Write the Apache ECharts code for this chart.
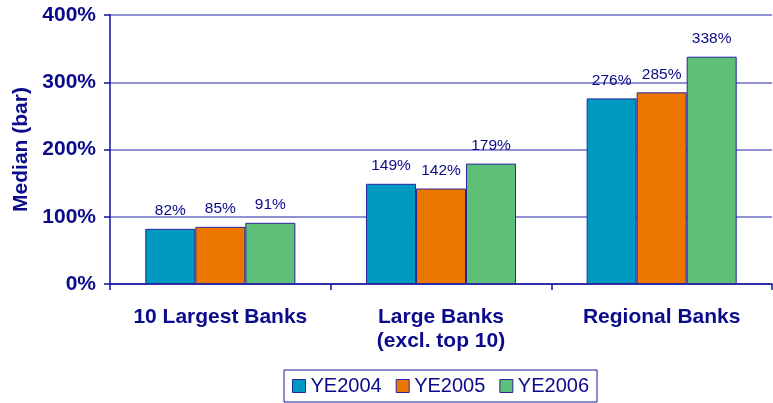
<!DOCTYPE html>
<html>
<head>
<meta charset="utf-8">
<script src="https://cdn.jsdelivr.net/npm/echarts@6/dist/echarts.min.js"></script>
<style>
  html, body { margin: 0; padding: 0; background: #ffffff; }
  #chart { width: 773px; height: 403px; }
</style>
</head>
<body>
<div id="chart"></div>
<script>
// Median (bar) by bank group, year-end 2004-2006
const categories = ['10 Largest Banks', 'Large Banks\n(excl. top 10)', 'Regional Banks'];
const seriesNames = ['YE2004', 'YE2005', 'YE2006'];
const ye2004 = [82, 149, 276];
const ye2005 = [85, 142, 285];
const ye2006 = [91, 179, 338];
const yTicks = [0, 100, 200, 300, 400];

const navy = '#0A0A8C';
const colors = ['#0099C2', '#EB7700', '#5DBF78'];
const values = [ye2004, ye2005, ye2006];
const regular = '"Liberation Sans", Arial, sans-serif';

const chart = echarts.init(document.getElementById('chart'), null, { renderer: 'canvas' });

const series = seriesNames.map((name, i) => ({
  name: name,
  type: 'bar',
  data: values[i],
  barGap: '0%',
  barCategoryGap: '32%',
  itemStyle: { color: colors[i], borderColor: '#2626A0', borderWidth: 1 },
  label: {
    show: true,
    position: 'top',
    distance: 10,
    formatter: p => p.value + '%',
    color: navy,
    fontFamily: regular,
    fontSize: 15.5
  }
}));

chart.setOption({
  animation: false,
  textStyle: { fontFamily: regular },
  grid: { left: 110, right: 1, top: 15, bottom: 119, containLabel: false, outerBoundsMode: 'none' },
  legend: {
    data: seriesNames,
    left: 284,
    top: 370,
    itemWidth: 13,
    itemHeight: 13,
    itemGap: 14,
    padding: [6, 8, 6, 8],
    borderColor: '#1A1A95',
    borderWidth: 1,
    icon: 'rect',
    itemStyle: { borderColor: '#2626A0', borderWidth: 1 },
    textStyle: { color: navy, fontSize: 20, fontFamily: regular }
  },
  xAxis: {
    type: 'category',
    data: categories,
    axisLine: { lineStyle: { color: '#1010A0', width: 1.5 } },
    axisTick: { show: true, length: 6, lineStyle: { color: '#1010A0', width: 1.5 } },
    axisLabel: {
      color: navy,
      fontWeight: 'bold',
      fontSize: 21,
      lineHeight: 24,
      margin: 21,
      interval: 0
    }
  },
  yAxis: {
    type: 'value',
    min: yTicks[0],
    max: yTicks[yTicks.length - 1],
    interval: 100,
    name: 'Median (bar)',
    nameLocation: 'middle',
    nameGap: 76,
    nameRotate: 90,
    nameTextStyle: { color: navy, fontWeight: 'bold', fontSize: 21 },
    axisLine: { show: true, lineStyle: { color: '#1010A0', width: 1.5 } },
    axisTick: { show: true, length: 6, lineStyle: { color: '#1010A0', width: 1.5 } },
    splitLine: { show: true, lineStyle: { color: '#6C6CC4', width: 1.5 } },
    axisLabel: {
      color: navy,
      fontWeight: 'bold',
      fontSize: 21,
      margin: 14,
      formatter: v => v + '%'
    }
  },
  series: series
});
</script>
</body>
</html>
